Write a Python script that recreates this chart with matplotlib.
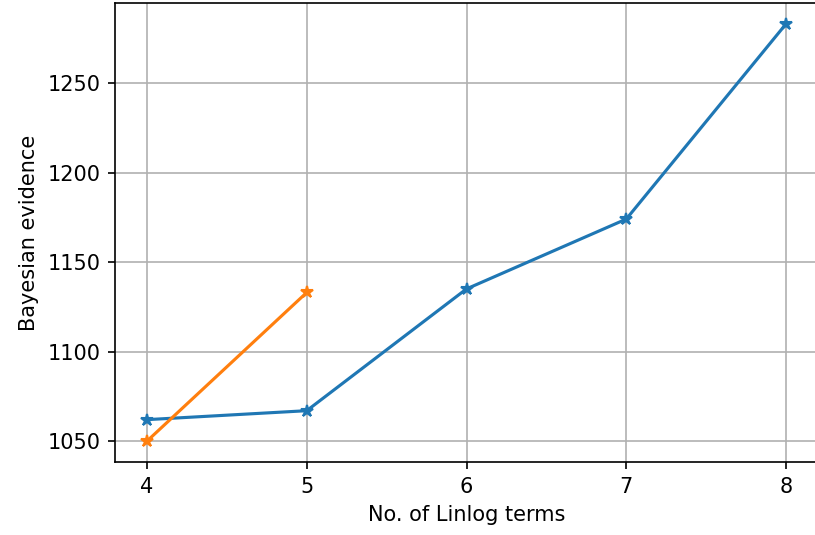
import matplotlib
matplotlib.use('Agg')
import matplotlib.pyplot as plt

# evidence vs. number of linlog terms
n_terms = [4, 5, 6, 7, 8]
evidence_a = [1062, 1067, 1135, 1174, 1283]

n_terms_b = [4, 5]
evidence_b = [1050, 1133]

fig = plt.figure(figsize=(815/150, 535/150), dpi=150)
ax = fig.add_axes([115/815, 73/535, 703/815, 459/535])

ax.plot(n_terms, evidence_a, marker='*')
ax.plot(n_terms_b, evidence_b, marker='*')

ax.set_xticks(n_terms)
ax.grid(True)
ax.set_xlabel('No. of Linlog terms')
ax.set_ylabel('Bayesian evidence')

fig.savefig('out.png', dpi=150)
